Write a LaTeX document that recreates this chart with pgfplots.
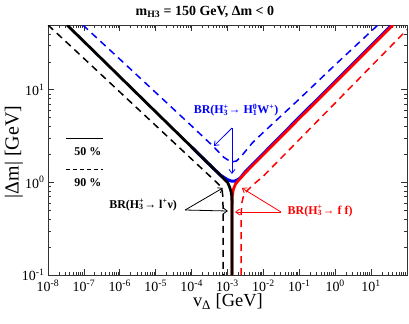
\documentclass[border=0pt]{standalone}
\usepackage{fontspec}
\setmainfont{Liberation Serif}
\usepackage{pgfplots}
\pgfplotsset{compat=1.18}
\usetikzlibrary{arrows.meta}
% stacked super/subscript, e.g. H_3^+
\newcommand{\ssp}[2]{{\sbox0{\textsuperscript{#1}}\sbox2{\textsubscript{#2}}%
  \rlap{\usebox0}\usebox2\ifdim\wd0>\wd2\kern\dimexpr\wd0-\wd2\relax\fi}}

\begin{document}
\begin{tikzpicture}
\begin{loglogaxis}[
  scale only axis, width=359bp, height=250bp,
  xmin=1e-8, xmax=100, ymin=0.1, ymax=50,
  xtick={1e-8,1e-7,1e-6,1e-5,1e-4,1e-3,1e-2,1e-1,1,10},
  xticklabels={10\textsuperscript{-8},10\textsuperscript{-7},10\textsuperscript{-6},10\textsuperscript{-5},10\textsuperscript{-4},10\textsuperscript{-3},10\textsuperscript{-2},10\textsuperscript{-1},10\textsuperscript{0},10\textsuperscript{1}},
  minor xtick={2e-8,3e-8,4e-8,5e-8,6e-8,7e-8,8e-8,9e-8,
    2e-7,3e-7,4e-7,5e-7,6e-7,7e-7,8e-7,9e-7,
    2e-6,3e-6,4e-6,5e-6,6e-6,7e-6,8e-6,9e-6,
    2e-5,3e-5,4e-5,5e-5,6e-5,7e-5,8e-5,9e-5,
    2e-4,3e-4,4e-4,5e-4,6e-4,7e-4,8e-4,9e-4,
    2e-3,3e-3,4e-3,5e-3,6e-3,7e-3,8e-3,9e-3,
    0.02,0.03,0.04,0.05,0.06,0.07,0.08,0.09,
    0.2,0.3,0.4,0.5,0.6,0.7,0.8,0.9,
    2,3,4,5,6,7,8,9,
    20,30,40,50,60,70,80,90},
  ytick={0.1,1,10},
  yticklabels={10\textsuperscript{-1},10\textsuperscript{0},10\textsuperscript{1}},
  minor ytick={0.2,0.3,0.4,0.5,0.6,0.7,0.8,0.9,2,3,4,5,6,7,8,9,20,30,40},
  tick align=inside,
  major tick length=6bp, minor tick length=3bp,
  tick style={line width=0.6bp, black!80},
  axis line style={line width=0.9bp, black!80},
  tick label style={font=\fontsize{14}{14}\selectfont},
  xticklabel style={yshift=-1.5bp},
  clip mode=individual,
]
% BR(H1 W) = 50% (mostly hidden under the black and red lines)
\addplot[blue, line width=3bp] coordinates {
  (1e-4,2.41) (3.16e-4,1.554) (6.31e-4,1.20) (1e-3,1.07) (1.259e-3,1.035)
  (1.514e-3,1.03) (1.778e-3,1.05) (2.239e-3,1.11) (3.162e-3,1.31)
  (1e-2,2.05) (0.1,5.05) (1,12.25) (10,30.0) (37.8,50)};
% 90% lines
\addplot[blue, line width=1.5bp, dash pattern=on 7bp off 5bp] coordinates {
  (9.33e-8,50) (1e-6,21.4) (1e-5,9.33) (1e-4,4.07) (3.98e-4,2.455)
  (7.94e-4,1.862) (1.259e-3,1.66) (1.778e-3,1.70) (2.512e-3,1.95)
  (5.01e-3,2.69) (1e-2,3.47) (0.1,7.94) (1,18.6) (10,42.7) (15.5,50)};
\addplot[black, line width=1.5bp, dash pattern=on 7bp off 5bp] coordinates {
  (1e-8,50) (1e-7,21.8) (1e-6,9.46) (1e-5,4.11) (1e-4,1.786) (3.16e-4,1.178)
  (5.01e-4,0.998) (6.31e-4,0.912) (7.08e-4,0.83) (7.41e-4,0.708)
  (7.5e-4,0.562) (7.5e-4,0.1)};
\addplot[red, line width=1.5bp, dash pattern=on 7bp off 5bp] coordinates {
  (2.4e-3,0.1) (2.4e-3,0.447) (2.512e-3,0.603) (2.818e-3,0.724)
  (3.548e-3,0.813) (5.01e-3,0.933) (1e-2,1.17) (0.1,2.90) (1,7.19)
  (10,17.9) (100,44.4)};
% 50% lines
\addplot[red, line width=2.8bp] coordinates {
  (1.34e-3,0.1) (1.34e-3,0.562) (1.365e-3,0.708) (1.445e-3,0.832)
  (1.66e-3,0.955) (2.0e-3,1.047) (2.512e-3,1.15) (3.162e-3,1.276)
  (1e-2,1.995) (0.1,4.90) (1,11.9) (10,29.1) (40.7,50)};
\addplot[black, line width=2.8bp] coordinates {
  (3.39e-8,50) (1e-7,33.2) (1e-6,13.85) (1e-5,5.77) (1e-4,2.41)
  (3.16e-4,1.554) (6.31e-4,1.195) (1e-3,1.003) (1.148e-3,0.891)
  (1.259e-3,0.794) (1.318e-3,0.708) (1.334e-3,0.562) (1.334e-3,0.1)};

% title and axis labels
\node[font=\bfseries\fontsize{14}{14}\selectfont] at (rel axis cs:0.437,1.052)
  {m\textsubscript{H3} = 150 GeV, Δm < 0};
\node[anchor=base, font=\fontsize{18.5}{18.5}\selectfont] at (rel axis cs:0.501,-0.127)
  {v\textsubscript{Δ} [GeV]};
\node[rotate=90, font=\fontsize{20}{20}\selectfont] at (rel axis cs:-0.095,0.492)
  {|Δm| [GeV]};

% key
\draw[line width=1bp] (rel axis cs:0.05,0.548) -- (rel axis cs:0.153,0.548);
\node[font=\bfseries\fontsize{12}{12}\selectfont] at (rel axis cs:0.111,0.492) {50 \%};
\draw[line width=1bp, dash pattern=on 4bp off 3bp] (rel axis cs:0.05,0.424) -- (rel axis cs:0.153,0.424);
\node[font=\bfseries\fontsize{12}{12}\selectfont] at (rel axis cs:0.111,0.368) {90 \%};

% annotations
\tikzset{ann/.style={line width=0.8bp, -{Straight Barb[length=4bp,width=6bp]}}}
\node[text=blue, font=\bfseries\fontsize{12}{12}\selectfont] at (rel axis cs:0.524,0.66)
  {BR(H\ssp{+}{3}→ H\ssp{0}{1}W\textsuperscript{+})};
\draw[ann, blue] (rel axis cs:0.5125,0.588) -- (rel axis cs:0.462,0.516);
\draw[ann, blue] (rel axis cs:0.5125,0.588) -- (rel axis cs:0.5125,0.404);

\node[font=\bfseries\fontsize{12}{12}\selectfont] at (rel axis cs:0.265,0.28)
  {BR(H\ssp{+}{3}→ l\textsuperscript{+}ν)};
\draw[ann] (rel axis cs:0.382,0.26) -- (rel axis cs:0.487,0.348);
\draw[ann] (rel axis cs:0.382,0.26) -- (rel axis cs:0.501,0.256);

\node[text=red, font=\bfseries\fontsize{12}{12}\selectfont] at (rel axis cs:0.758,0.256)
  {BR(H\ssp{+}{3}→ f f)};
\draw[ann, red] (rel axis cs:0.649,0.252) -- (rel axis cs:0.540,0.348);
\draw[ann, red] (rel axis cs:0.649,0.252) -- (rel axis cs:0.521,0.252);
\end{loglogaxis}
\pgfresetboundingbox
\path[use as bounding box] ([shift={(-48bp,-48bp)}]current axis.south west)
  rectangle ([shift={(2bp,25bp)}]current axis.north east);
\end{tikzpicture}
\end{document}
